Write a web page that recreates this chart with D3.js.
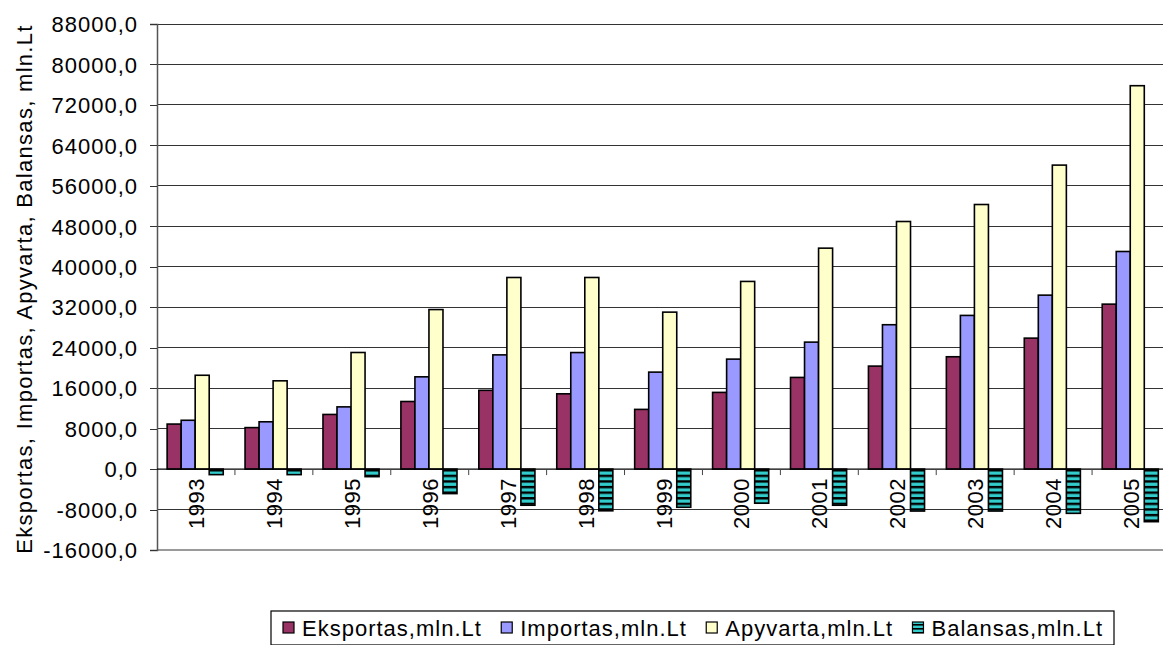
<!DOCTYPE html>
<html>
<head>
<meta charset="utf-8">
<script src="https://cdn.jsdelivr.net/npm/d3@7"></script>
<style>
  html, body { margin: 0; padding: 0; background: #fff; }
  svg { display: block; font-family: "Liberation Sans", Arial, sans-serif; }
</style>
</head>
<body>
<svg id="chart" width="1163" height="645"></svg>
<script>
const years = ["1993","1994","1995","1996","1997","1998","1999","2000","2001","2002","2003","2004","2005"];
const eksportas = [8900, 8200, 10800, 13360, 15570, 14880, 11800, 15160, 18120, 20360, 22210, 25890, 32610];
const importas  = [9650, 9350, 12300, 18240, 22580, 23040, 19170, 21740, 25100, 28540, 30380, 34390, 43020];
const apyvarta  = [18550, 17450, 23050, 31540, 37880, 37880, 31030, 37100, 43680, 48950, 52310, 60100, 75800];
const balansas  = [-1100, -1100, -1500, -4850, -7150, -8250, -7550, -6750, -7150, -8300, -8300, -8750, -10400];
const seriesNames = ["Eksportas,mln.Lt", "Importas,mln.Lt", "Apyvarta,mln.Lt", "Balansas,mln.Lt"];
const yTicks = [-16000, -8000, 0, 8000, 16000, 24000, 32000, 40000, 48000, 56000, 64000, 72000, 80000, 88000];
const yTitle = "Eksportas, Importas, Apyvarta, Balansas, mln.Lt";

(function () {
const seriesData = [eksportas, importas, apyvarta, balansas];
const colors = ["#993366", "#9999FF", "#FFFFCC", "url(#stripes)"];
const legendColors = ["#993366", "#9999FF", "#FFFFCC", "url(#stripesL)"];

const svg = d3.select("#chart");
const pL = 157, pR = 1170, pT = 24, pB = 550;

const y = d3.scaleLinear().domain([-16000, 88000]).range([pB, pT]);
const x = d3.scaleBand().domain(years).range([pL, pR]).paddingInner(0).paddingOuter(0);
const step = x.bandwidth();
const xs = d3.scaleBand().domain(d3.range(4)).range([step * 0.13, step * 0.13 + step * 0.72]);

const defs = svg.append("defs");
const pat = defs.append("pattern").attr("id", "stripes").attr("patternUnits", "userSpaceOnUse")
  .attr("x", 0).attr("y", y(0)).attr("width", 20).attr("height", 5.6);
pat.append("rect").attr("width", 20).attr("height", 5.6).attr("fill", "#33CCCC");
pat.append("rect").attr("width", 20).attr("height", 2.4).attr("fill", "#000");
const patL = defs.append("pattern").attr("id", "stripesL").attr("patternUnits", "userSpaceOnUse")
  .attr("x", 0).attr("y", 0).attr("width", 20).attr("height", 4);
patL.append("rect").attr("width", 20).attr("height", 4).attr("fill", "#33CCCC");
patL.append("rect").attr("width", 20).attr("height", 1.6).attr("fill", "#000");

// gridlines
svg.append("g").selectAll("line").data(yTicks.filter(t => t !== 0 && t !== -16000)).join("line")
  .attr("x1", pL).attr("x2", pR).attr("y1", d => y(d)).attr("y2", d => y(d))
  .attr("stroke", "#333").attr("stroke-width", 1).attr("shape-rendering", "crispEdges");
svg.append("line").attr("x1", pL).attr("x2", pR).attr("y1", y(-16000)).attr("y2", y(-16000))
  .attr("stroke", "#9a9a9a").attr("stroke-width", 2).attr("shape-rendering", "crispEdges");

// y axis
const yAxis = d3.axisLeft(y).tickValues(yTicks).tickSize(7).tickPadding(12)
  .tickFormat(v => v.toFixed(1).replace(".", ","));
const gy = svg.append("g").attr("transform", `translate(${pL},0)`).call(yAxis);
gy.select(".domain").attr("stroke", "#555").attr("stroke-width", 1.5);
gy.selectAll(".tick line").attr("stroke", "#333").attr("shape-rendering", "crispEdges");
gy.selectAll("text").attr("font-size", 22).attr("letter-spacing", 1).attr("fill", "#000")
  .attr("font-family", "'Liberation Sans', Arial, sans-serif").attr("dy", "0.35em");

// bars
const groups = svg.append("g").selectAll("g").data(seriesData).join("g").attr("fill", (d, i) => colors[i]);
groups.selectAll("rect").data((d, si) => d.map((v, j) => ({v, j, si}))).join("rect")
  .attr("x", d => x(years[d.j]) + xs(d.si))
  .attr("width", xs.bandwidth())
  .attr("y", d => y(Math.max(0, d.v)))
  .attr("height", d => Math.abs(y(d.v) - y(0)))
  .attr("stroke", "#000").attr("stroke-width", 1.6);

// x axis line and ticks
svg.append("line").attr("x1", pL).attr("x2", pR).attr("y1", y(0)).attr("y2", y(0))
  .attr("stroke", "#000").attr("stroke-width", 1.2);
svg.append("g").selectAll("line").data(years.slice(1)).join("line")
  .attr("x1", d => x(d)).attr("x2", d => x(d)).attr("y1", y(0)).attr("y2", y(0) + 6)
  .attr("stroke", "#444").attr("stroke-width", 1);

// year labels
svg.append("g").selectAll("text").data(years).join("text")
  .attr("transform", d => `translate(${x(d) + step / 2 + 8},${y(0) + 9}) rotate(-90)`)
  .attr("text-anchor", "end").attr("font-size", 22).attr("letter-spacing", 0.5).attr("fill", "#000")
  .text(d => d);

// y axis title
svg.append("text").attr("transform", `translate(32,${(pT + pB) / 2 + 2}) rotate(-90)`)
  .attr("text-anchor", "middle").attr("font-size", 22).attr("letter-spacing", 1.3).attr("fill", "#000").text(yTitle);

// legend
const lg = svg.append("g");
const lx0 = 271, ly0 = 611, lw = 843, lh = 34;
const startX = lx0 + 12, endX = lx0 + lw - 11;
const items = lg.selectAll("g").data(seriesNames).join("g");
const texts = items.append("text").attr("y", ly0 + 25).attr("font-size", 22).attr("letter-spacing", 1)
  .attr("fill", "#000").text(d => d);
const widths = texts.nodes().map(n => n.getComputedTextLength());
const mw = 11, mg = 8;
const used = d3.sum(widths) + 4 * (mw + mg);
const gap = (endX - startX - used) / 3;
let cx = startX;
items.each(function(name, i) {
  const g = d3.select(this);
  g.append("rect").attr("x", cx).attr("y", ly0 + 11).attr("width", mw).attr("height", mw)
    .attr("fill", legendColors[i]).attr("stroke", "#000").attr("stroke-width", 1.2);
  g.select("text").attr("x", cx + mw + mg);
  cx += mw + mg + widths[i] + gap;
});
lg.insert("rect", ":first-child").attr("x", lx0).attr("y", ly0).attr("width", lw).attr("height", lh)
  .attr("fill", "#fff").attr("stroke", "#000").attr("stroke-width", 1.2);
})();
</script>
</body>
</html>
